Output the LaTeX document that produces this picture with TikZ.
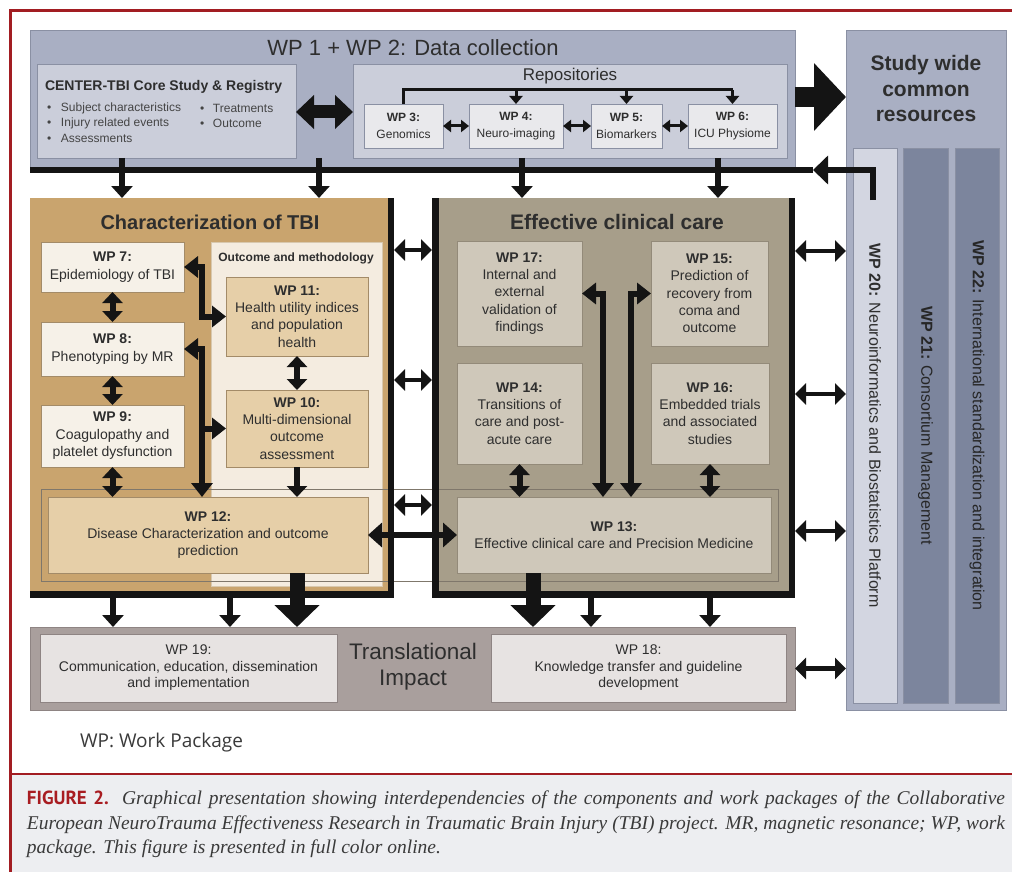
\documentclass[tikz,border=0pt]{standalone}
\usepackage{fontspec}
\setmainfont{Liberation Sans}
\newfontfamily\capfont{Liberation Serif}
\newfontfamily\figfont{PT Sans}
\newfontfamily\wpfont{Open Sans}
\usetikzlibrary{arrows.meta,calc}
\definecolor{redline}{HTML}{A21D22}
\definecolor{figred}{HTML}{A81C21}
\definecolor{capbg}{HTML}{EDEEF1}
\definecolor{captxt}{HTML}{3A3A3A}
\definecolor{dcbg}{HTML}{A9AFC3}
\definecolor{dcin}{HTML}{CBCEDA}
\definecolor{dcbox}{HTML}{E9E9EC}
\definecolor{dcedge}{HTML}{8A90A3}
\definecolor{swcol}{HTML}{D3D6E1}
\definecolor{swdark}{HTML}{7C859D}
\definecolor{chartan}{HTML}{C9A46E}
\definecolor{cream}{HTML}{F4ECE0}
\definecolor{creamedge}{HTML}{D8C8AE}
\definecolor{lightbox}{HTML}{F6F1E8}
\definecolor{tanbox}{HTML}{E6CFA8}
\definecolor{tanedge}{HTML}{A38B68}
\definecolor{eccbg}{HTML}{A79E8A}
\definecolor{eccbox}{HTML}{CFC8BA}
\definecolor{eccedge}{HTML}{938A79}
\definecolor{trbg}{HTML}{A99F9D}
\definecolor{trbox}{HTML}{E7E3E2}
\definecolor{tredge}{HTML}{8E8483}
\definecolor{txt}{HTML}{2E2E2E}
\definecolor{bultxt}{HTML}{444444}
\definecolor{arrblack}{HTML}{141414}
\definecolor{bandline}{HTML}{7F776B}
\newcommand\fs[2]{\fontsize{#1}{#2}\selectfont}
\newcommand\bx[7]{\node[#6, minimum width={#4pt-#2pt}, minimum height={#5pt-#3pt}] (#1) at ({(#2+#4)/2},{(#3+#5)/2}) {#7};}
\tikzset{
 base/.style={inner sep=0pt, outer sep=0pt, align=center, text=txt},
 panel/.style={base, draw=dcedge, line width=0.8pt},
 dcbx/.style={base, fill=dcbox, draw=dcedge, line width=0.8pt, font=\fs{12}{16.5}},
 wpl/.style={base, fill=lightbox, draw=tanedge, line width=0.8pt, font=\fs{14}{17.5}},
 wpt/.style={base, fill=tanbox, draw=tanedge, line width=0.8pt, font=\fs{14}{17.3}},
 wpe/.style={base, fill=eccbox, draw=eccedge, line width=0.8pt, font=\fs{14}{17.3}},
 wpr/.style={base, fill=trbox, draw=tredge, line width=0.8pt, font=\fs{14}{16.5}},
 col/.style={base, draw=dcedge, line width=0.8pt},
 bul/.style={base, anchor=west, font=\fs{12}{14}, text=bultxt},
 bar/.style={draw=arrblack, line width=6.5pt},
 darr/.style={draw=arrblack, line width=6pt, >={Triangle[width=21pt,length=12pt]}, ->},
 vdbl/.style={draw=arrblack, line width=6pt, >={Triangle[width=20pt,length=11pt]}, <->},
 vsgl/.style={draw=arrblack, line width=6pt, >={Triangle[width=20pt,length=11pt]}, ->},
 elbd/.style={draw=arrblack, line width=6pt, >={Triangle[width=21pt,length=14pt]}, <->},
 elbs/.style={draw=arrblack, line width=6pt, >={Triangle[width=21pt,length=14pt]}, ->},
 hdbl/.style={draw=arrblack, line width=4.5pt, >={Triangle[width=21pt,length=11pt]}, <->},
 mdbl/.style={draw=arrblack, line width=5.5pt, >={Triangle[width=24pt,length=14pt]}, <->},
 tarr/.style={draw=arrblack, line width=3pt, >={Triangle[width=12pt,length=8pt]}, <->},
 tdown/.style={draw=arrblack, line width=3pt, >={Triangle[width=13pt,length=8pt]}, ->},
 tline/.style={draw=arrblack, line width=3pt},
 blockdbl/.style={draw=arrblack, line width=13pt, >={Triangle[width=33pt,length=18pt]}, <->},
 hugearr/.style={draw=arrblack, line width=20pt, >={Triangle[width=66pt,length=32pt]}, ->},
 bigdown/.style={draw=arrblack, line width=15pt, >={Triangle[width=44pt,length=22pt]}, ->},
}
\begin{document}
\begin{tikzpicture}[x=1pt,y=-1pt]
\useasboundingbox (0,0) rectangle (1012,872);
\fill[white] (0,0) rectangle (1012,872);
% frame and caption background
\fill[capbg] (10,774) rectangle (1012,872);
\draw[redline,line width=3pt] (10,872) -- (10,11) -- (1012,11);
\draw[redline,line width=2.5pt] (10,774) -- (1012,774);

% ---------------- Data collection ----------------
\bx{dc}{30}{30}{795}{167}{panel,fill=dcbg}{}
\node[base, font=\fs{22}{26}] (dct) at (413,48) {WP 1 + WP 2: Data collection};
\bx{core}{37}{64}{296}{158}{panel,fill=dcin}{}
\node[base, anchor=west, font=\fs{14}{17}\bfseries] (coret) at (45,87) {CENTER-TBI Core Study \& Registry};
\node[bul] (b1) at (47,108) {\makebox[14pt][l]{\textbullet}Subject characteristics};
\node[bul] (b2) at (47,123) {\makebox[14pt][l]{\textbullet}Injury related events};
\node[bul] (b3) at (47,138) {\makebox[14pt][l]{\textbullet}Assessments};
\node[bul] (b4) at (200,108) {\makebox[13pt][l]{\textbullet}Treatments};
\node[bul] (b5) at (200,123) {\makebox[13pt][l]{\textbullet}Outcome};
\bx{repo}{353}{64}{787}{158}{panel,fill=dcin}{}
\node[base, font=\fs{17}{20}] (repot) at (570,76) {Repositories};
\bx{wp3}{364}{104}{443}{148}{dcbx}{\textbf{WP 3:}\\Genomics}
\bx{wp4}{469}{104}{563}{148}{dcbx}{\textbf{WP 4:}\\Neuro-imaging}
\bx{wp5}{591}{104}{662}{148}{dcbx}{\textbf{WP 5:}\\Biomarkers}
\bx{wp6}{688}{104}{777}{148}{dcbx}{\textbf{WP 6:}\\ICU Physiome}
\coordinate (rtop) at (0,90);
\draw[tline] (wp3.north) -- (wp3.north |- rtop) -- (wp6.north |- rtop);
\draw[tdown] (wp6.north |- rtop) -- (wp6.north);
\draw[tdown] (wp4.north |- rtop) -- (wp4.north);
\draw[tdown] (wp5.north |- rtop) -- (wp5.north);
\draw[tarr] (wp3.east) -- (wp4.west);
\draw[tarr] (wp4.east) -- (wp5.west);
\draw[tarr] (wp5.east) -- (wp6.west);
\coordinate (ybd) at (0,112);
\draw[blockdbl] (core.east |- ybd) -- (repo.west |- ybd);

% ---------------- Study wide ----------------
\bx{sw}{846}{30}{1006}{710}{panel,fill=dcbg}{}
\node[base, font=\fs{21}{25.5}\bfseries] (swt) at (926,88.5) {Study wide\\common\\resources};
\bx{wp20}{853}{148}{897}{703}{col,fill=swcol}{}
\bx{wp21}{903}{148}{948}{703}{col,fill=swdark}{}
\bx{wp22}{955}{148}{999}{703}{col,fill=swdark}{}
\node[base, rotate=-90, font=\fs{16}{18}] (wp20t) at (wp20.center) {\textbf{WP 20:} Neuroinformatics and Biostatistics Platform};
\node[base, rotate=-90, font=\fs{16}{18}, text=black!85] (wp21t) at (wp21.center) {\textbf{WP 21:} Consortium Management};
\node[base, rotate=-90, font=\fs{16}{18}, text=black!85] (wp22t) at (wp22.center) {\textbf{WP 22:} International standardization and integration};
\coordinate (yha) at (0,97);
\draw[hugearr] (dc.east |- yha) -- (sw.west |- yha);

% ---------------- Characterization ----------------
\bx{char}{30}{198}{394}{598}{base,fill=chartan}{}
\bx{ecc}{432}{198}{795}{598}{base,fill=eccbg}{}
\bx{om}{211}{242}{382}{586}{base,fill=cream,draw=creamedge,line width=0.8pt}{}
\bx{band}{41}{489}{778}{581}{base,draw=bandline,line width=0.7pt}{}
\fill[arrblack] (387.5,198) rectangle (394,598);
\fill[arrblack] (30,591) rectangle (394,598);
\fill[arrblack] (432,198) rectangle (438.5,598);
\fill[arrblack] (788.5,198) rectangle (795,598);
\fill[arrblack] (432,591) rectangle (795,598);

\node[base, font=\fs{20}{24}\bfseries] (chart) at (210,222) {Characterization of TBI};
\node[base, font=\fs{12}{14}\bfseries] (omt) at (296,258) {Outcome and methodology};
\bx{wp7}{41}{242}{184}{292}{wpl}{\textbf{WP 7:}\\Epidemiology of TBI}
\bx{wp8}{41}{322}{184}{376}{wpl}{\textbf{WP 8:}\\Phenotyping by MR}
\bx{wp9}{41}{405}{184}{467}{wpl}{\textbf{WP 9:}\\Coagulopathy and\\platelet dysfunction}
\bx{wp11}{226}{277}{368}{356}{wpt}{\textbf{WP 11:}\\Health utility indices\\and population\\health}
\bx{wp10}{226}{390}{368}{467}{wpt}{\textbf{WP 10:}\\Multi-dimensional\\outcome\\assessment}
\bx{wp12}{48}{497}{368}{573}{wpt}{\textbf{WP 12:}\\Disease Characterization and outcome\\prediction}

% ---------------- Effective clinical care ----------------
\node[base, font=\fs{21}{24}\bfseries] (ecct) at (617,222) {Effective clinical care};
\bx{wp17}{457}{241}{582}{346}{wpe}{\textbf{WP 17:}\\Internal and\\external\\validation of\\findings}
\bx{wp15}{651}{241}{768}{346}{wpe}{\textbf{WP 15:}\\Prediction of\\recovery from\\coma and\\outcome}
\bx{wp14}{457}{363}{582}{464}{wpe}{\textbf{WP 14:}\\Transitions of\\care and post-\\acute care}
\bx{wp16}{651}{363}{769}{464}{wpe}{\textbf{WP 16:}\\Embedded trials\\and associated\\studies}
\bx{wp13}{457}{497}{771}{573}{wpe}{\textbf{WP 13:}\\Effective clinical care and Precision Medicine}

% ---------------- Translational ----------------
\bx{tr}{30}{627}{795}{710}{base,fill=trbg,draw=tredge,line width=0.8pt}{}
\bx{wp19}{40}{634}{337}{702}{wpr}{WP 19:\\Communication, education, dissemination\\and implementation}
\bx{wp18}{491}{634}{786}{702}{wpr}{WP 18:\\Knowledge transfer and guideline\\development}
\node[base, font=\fs{22.5}{26}] (trt) at (413,667) {Translational\\Impact};

% ---------------- bar and arrows ----------------
\coordinate (barE) at (873,200);
\coordinate (barR) at (873,170);
\coordinate (barM) at (813,170);
\coordinate (barL) at (30,170);
\draw[bar, >={Triangle[width=28pt,length=15pt]}, ->] (barE) -- (barR) -- (barM);
\draw[bar] (barM) -- (barL);
\coordinate (t1) at (122,158);
\coordinate (t2) at (319,158);
\coordinate (t3) at (522,158);
\coordinate (t4) at (718,158);
\draw[darr] (t1) -- (t1 |- char.north);
\draw[darr] (t2) -- (t2 |- char.north);
\draw[darr] (t3) -- (t3 |- ecc.north);
\draw[darr] (t4) -- (t4 |- ecc.north);

% inside characterization
\draw[vdbl] (wp7.south) -- (wp8.north);
\draw[vdbl] (wp8.south) -- (wp9.north);
\draw[vdbl] (wp9.south) -- (wp9.south |- wp12.north);
\draw[vdbl] (wp11.south) -- (wp10.north);
\draw[vsgl] (wp10.south) -- (wp10.south |- wp12.north);
\draw[elbd] (wp7.east) -- ++(18,0) |- (wp11.west);
\draw[elbd] (wp8.east) -- ++(18,0) coordinate (e2) -- (e2 |- wp12.north);
\draw[elbs] (e2 |- wp10.west) -- (wp10.west);

% inside effective clinical care
\draw[vdbl] (wp14.south) -- (wp14.south |- wp13.north);
\draw[vdbl] (wp16.south) -- (wp16.south |- wp13.north);
\draw[elbd] (wp17.east) -- ++(21,0) coordinate (e3) -- (e3 |- wp13.north);
\draw[elbd] (wp15.west) -- ++(-20,0) coordinate (e4) -- (e4 |- wp13.north);

% between blocks
\coordinate (m1) at (0,250);
\coordinate (m2) at (0,380);
\coordinate (m3) at (0,505);
\draw[hdbl] (char.east |- m1) -- (ecc.west |- m1);
\draw[hdbl] (char.east |- m2) -- (ecc.west |- m2);
\draw[hdbl] (char.east |- m3) -- (ecc.west |- m3);
\draw[mdbl] (wp12.east) -- (wp13.west);
\coordinate (r1) at (0,251);
\coordinate (r2) at (0,394);
\coordinate (r3) at (0,531);
\draw[hdbl] (ecc.east |- r1) -- (sw.west |- r1);
\draw[hdbl] (ecc.east |- r2) -- (sw.west |- r2);
\draw[hdbl] (ecc.east |- r3) -- (sw.west |- r3);
\draw[hdbl] (tr.east) -- (tr.east -| sw.west);

% down to translational
\coordinate (xa) at (113,0);
\coordinate (xb) at (230,0);
\coordinate (xc) at (297,0);
\coordinate (xd) at (533,0);
\coordinate (xe) at (591,0);
\coordinate (xf) at (710,0);
\draw[darr] (char.south -| xa) -- (tr.north -| xa);
\draw[darr] (char.south -| xb) -- (tr.north -| xb);
\draw[bigdown] (wp12.south -| xc) -- (tr.north -| xc);
\draw[bigdown] (wp13.south -| xd) -- (tr.north -| xd);
\draw[darr] (ecc.south -| xe) -- (tr.north -| xe);
\draw[darr] (ecc.south -| xf) -- (tr.north -| xf);

% ---------------- legend and caption ----------------
\node[base, anchor=west, font=\wpfont\fs{19}{22}, text=captxt] (legend) at (80,743) {WP: Work Package};
\node[base, anchor=west, font=\fs{19.5}{23}, text=captxt] (cap1) at (27,800) {\makebox[978pt][s]{{\figfont\bfseries\fs{19}{23}\color{figred}FIGURE 2.} \capfont\itshape Graphical presentation showing interdependencies of the components and work packages of the Collaborative}};
\node[base, anchor=west, font=\fs{19.5}{23}, text=captxt] (cap2) at (27,824.5) {\makebox[978pt][s]{\capfont\itshape European NeuroTrauma Effectiveness Research in Traumatic Brain Injury (TBI) project. MR, magnetic resonance; WP, work}};
\node[base, anchor=west, font=\fs{19.5}{23}, text=captxt] (cap3) at (27,849) {\capfont\itshape package. This figure is presented in full color online.};
\end{tikzpicture}
\end{document}
